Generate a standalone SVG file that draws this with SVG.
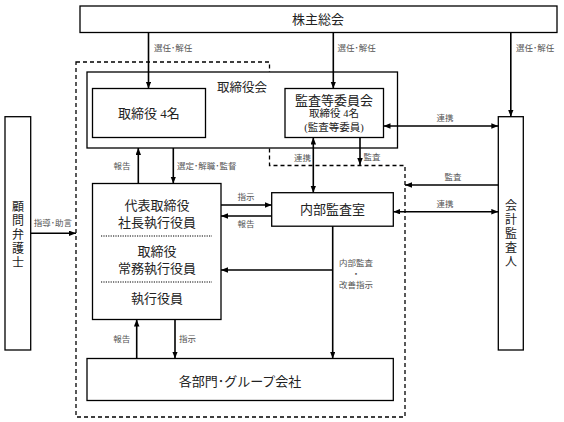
<svg xmlns="http://www.w3.org/2000/svg" width="564" height="422" viewBox="0 0 564 422">
<style>
.box{fill:#fff;stroke:#000;stroke-width:1.3}
.t{font-family:"Liberation Serif","Noto Sans CJK JP",serif;fill:#222;text-anchor:middle;dominant-baseline:central}
.big{font-size:13px}
.v{font-size:12px}
.mid{font-size:10.5px}
.lbl{font-family:"Liberation Serif","Noto Sans CJK JP",serif;font-size:8.5px;fill:#555;dominant-baseline:central}
.c{text-anchor:middle}
.ln{fill:none;stroke:#000;stroke-width:1.6}
.dash{fill:none;stroke:#000;stroke-width:1.3;stroke-dasharray:4 3}
.dot{stroke:#000;stroke-width:1.2;stroke-dasharray:1.2 1.2}
</style>
<defs>
<marker id="ah" markerUnits="userSpaceOnUse" markerWidth="8" markerHeight="6" refX="7" refY="2.75" orient="auto-start-reverse">
<path d="M0,0 L7,2.75 L0,5.5 z" fill="#000"/>
</marker>
</defs>
<rect width="564" height="422" fill="#fff"/>

<g id="outline">
<path class="dash" d="M76,62 H269.5 V165.5 H405 V417 H76 Z"/>
</g>

<g id="kabunushi">
<rect class="box" x="80" y="6" width="477" height="26.5"/>
<text class="t big" x="318" y="19.5">株主総会</text>
</g>

<g id="torishimariyakukai">
<rect class="box" x="87" y="72" width="310.5" height="76"/>
<text class="t" style="font-size:12.5px;text-anchor:start" x="217" y="88">取締役会</text>
</g>

<g id="torishimariyaku4">
<rect class="box" x="92.5" y="88.5" width="113" height="49"/>
<text class="t big" x="149" y="113.5">取締役 4名</text>
</g>

<g id="kansa_iinkai">
<rect class="box" x="285" y="88.5" width="98.5" height="49"/>
<text class="t big" x="334" y="100.5">監査等委員会</text>
<text class="t mid" x="334" y="113.5">取締役 4名</text>
<text class="t mid" x="334" y="127.5">(監査等委員)</text>
</g>

<g id="executive">
<rect class="box" x="92.5" y="183.5" width="128.5" height="136"/>
<text class="t big" x="157" y="205">代表取締役</text>
<text class="t big" x="157" y="222.5">社長執行役員</text>
<line class="dot" x1="101" y1="236" x2="212" y2="236"/>
<text class="t big" x="157" y="251.5">取締役</text>
<text class="t big" x="157" y="268.5">常務執行役員</text>
<line class="dot" x1="101" y1="282" x2="212" y2="282"/>
<text class="t big" x="157" y="298.5">執行役員</text>
</g>

<g id="naibu_kansa">
<rect class="box" x="271.7" y="192.7" width="121.6" height="33.5"/>
<text class="t big" x="332.5" y="209.5">内部監査室</text>
</g>

<g id="bumon">
<rect class="box" x="87" y="358.5" width="306.3" height="42"/>
<text class="t big" x="240" y="381">各部門･グループ会社</text>
</g>

<g id="komon">
<rect class="box" x="5" y="116.7" width="25.7" height="233.3"/>
<text class="t v" x="18" y="207">顧</text>
<text class="t v" x="18" y="221">問</text>
<text class="t v" x="18" y="235">弁</text>
<text class="t v" x="18" y="249">護</text>
<text class="t v" x="18" y="263">士</text>
</g>

<g id="kaikei">
<rect class="box" x="498.3" y="116.7" width="25" height="233.3"/>
<text class="t v" x="511" y="206">会</text>
<text class="t v" x="511" y="220">計</text>
<text class="t v" x="511" y="234">監</text>
<text class="t v" x="511" y="248">査</text>
<text class="t v" x="511" y="262">人</text>
</g>

<g id="connectors">
<line class="ln" x1="148.5" y1="32.5" x2="148.5" y2="88.5" marker-end="url(#ah)"/>
<line class="ln" x1="333.3" y1="32.5" x2="333.3" y2="88.5" marker-end="url(#ah)"/>
<line class="ln" x1="510.8" y1="32.5" x2="510.8" y2="116.7" marker-end="url(#ah)"/>
<line class="ln" x1="383.5" y1="126" x2="498.3" y2="126" marker-start="url(#ah)" marker-end="url(#ah)"/>
<line class="ln" x1="138.3" y1="183.5" x2="138.3" y2="148" marker-end="url(#ah)"/>
<line class="ln" x1="173.3" y1="148" x2="173.3" y2="183.5" marker-end="url(#ah)"/>
<line class="ln" x1="313.3" y1="137.5" x2="313.3" y2="192.7" marker-start="url(#ah)" marker-end="url(#ah)"/>
<line class="ln" x1="360" y1="137.5" x2="360" y2="165" marker-end="url(#ah)"/>
<line class="ln" x1="498.3" y1="185" x2="405" y2="185" marker-end="url(#ah)"/>
<line class="ln" x1="393.3" y1="211.7" x2="498.3" y2="211.7" marker-start="url(#ah)" marker-end="url(#ah)"/>
<line class="ln" x1="221" y1="205" x2="271.7" y2="205" marker-end="url(#ah)"/>
<line class="ln" x1="271.7" y1="216" x2="221" y2="216" marker-end="url(#ah)"/>
<line class="ln" x1="332.7" y1="226.2" x2="332.7" y2="358.5" marker-end="url(#ah)"/>
<line class="ln" x1="332.7" y1="270" x2="221" y2="270" marker-end="url(#ah)"/>
<line class="ln" x1="30.7" y1="233.3" x2="76" y2="233.3" marker-end="url(#ah)"/>
<line class="ln" x1="136.7" y1="358.5" x2="136.7" y2="319.5" marker-end="url(#ah)"/>
<line class="ln" x1="175" y1="319.5" x2="175" y2="358.5" marker-end="url(#ah)"/>

<text class="lbl" x="154" y="48">選任･解任</text>
<text class="lbl" x="337.5" y="48">選任･解任</text>
<text class="lbl" x="516" y="48">選任･解任</text>
<text class="lbl c" x="445" y="118">連携</text>
<text class="lbl c" x="122" y="166">報告</text>
<text class="lbl" x="177" y="166">選定･解職･監督</text>
<text class="lbl c" x="302.5" y="157.5">連携</text>
<text class="lbl c" x="372" y="157">監査</text>
<text class="lbl c" x="453" y="177">監査</text>
<text class="lbl c" x="445" y="204">連携</text>
<text class="lbl c" x="246" y="197">指示</text>
<text class="lbl c" x="246" y="224">報告</text>
<text class="lbl c" x="356" y="263">内部監査</text>
<text class="lbl c" x="356" y="274">・</text>
<text class="lbl c" x="356" y="285">改善指示</text>
<text class="lbl c" x="53" y="223">指導･助言</text>
<text class="lbl c" x="121.7" y="339">報告</text>
<text class="lbl" x="179" y="339">指示</text>
</g>
</svg>
